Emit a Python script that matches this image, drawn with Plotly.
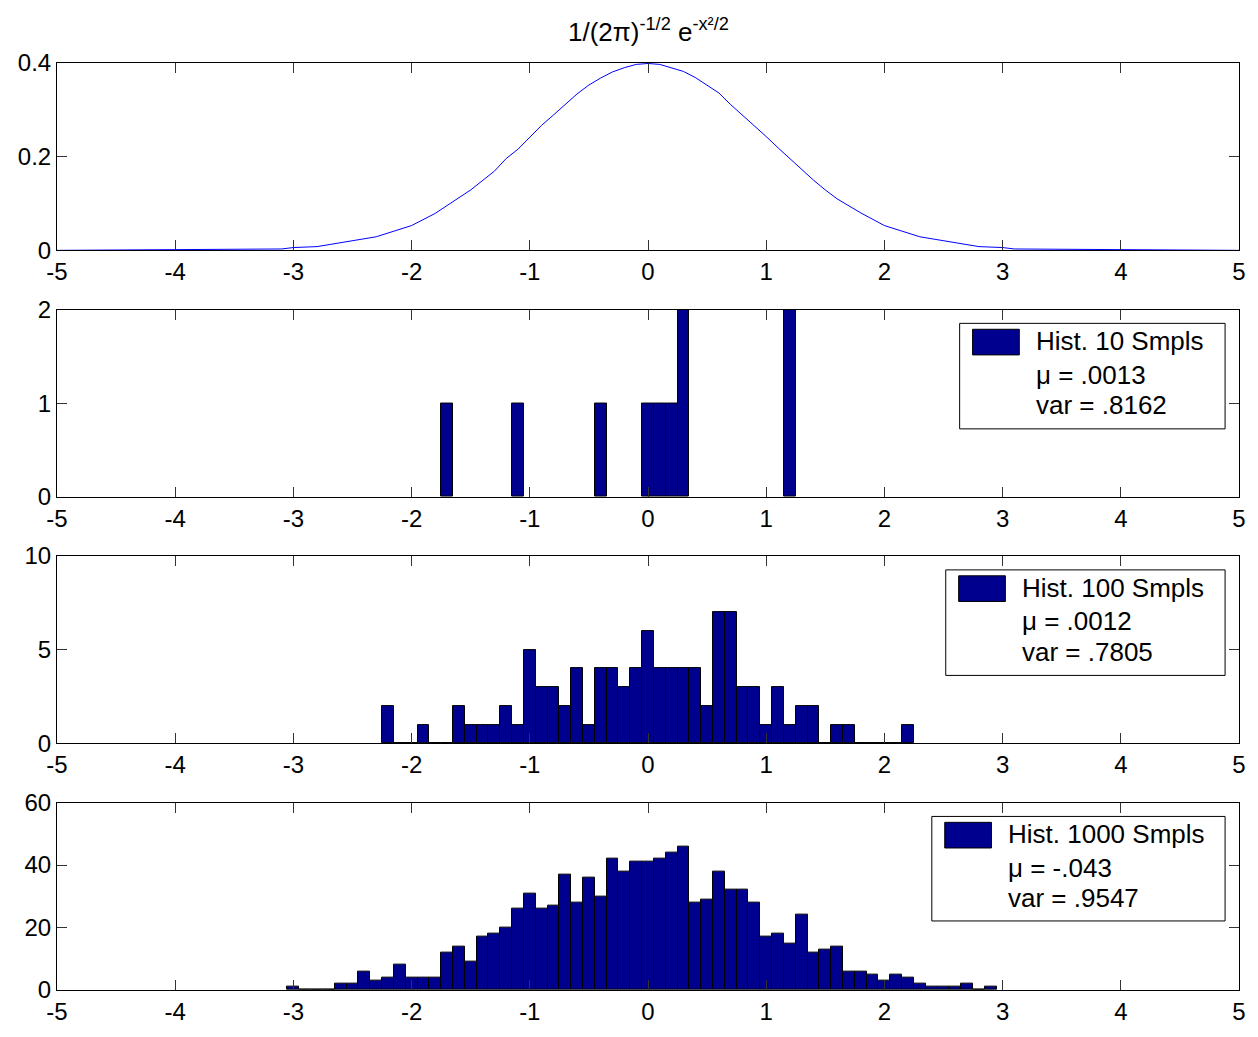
import plotly.graph_objects as go

# ---------------- data ----------------
curve_x = [-5, -3.1, -3.0, -2.8, -2.3, -2.0, -1.8, -1.6, -1.5, -1.3,
           -1.2, -1.1, -1.0, -0.9, -0.8, -0.7, -0.6, -0.5, -0.4, -0.3,
           -0.2, -0.1, 0.0, 0.1, 0.2, 0.3, 0.4, 0.5, 0.6, 0.7,
           0.8, 0.9, 1.0, 1.1, 1.2, 1.3, 1.4, 1.5, 1.6, 1.8,
           2.0, 2.3, 2.8, 3.0, 3.1, 5]
curve_y = [0.0, 0.003, 0.006, 0.008, 0.029, 0.053, 0.079, 0.112, 0.129, 0.169,
           0.196, 0.216, 0.241, 0.267, 0.289, 0.312, 0.334, 0.353, 0.368, 0.381,
           0.390, 0.397, 0.399, 0.397, 0.390, 0.382, 0.369, 0.353, 0.336, 0.311,
           0.289, 0.267, 0.243, 0.219, 0.196, 0.171, 0.150, 0.129, 0.110, 0.080,
           0.053, 0.029, 0.008, 0.006, 0.003, 0.0]

h10_x = [-1.7, -1.1, -0.4, 0.0, 0.1, 0.2, 0.3, 1.2]
h10_y = [1, 1, 1, 1, 1, 1, 2, 2]

h100_x = [-2.2, -2.1, -2.0, -1.9, -1.8, -1.7, -1.6, -1.5, -1.4, -1.3,
          -1.2, -1.1, -1.0, -0.9, -0.8, -0.7, -0.6, -0.5, -0.4, -0.3,
          -0.2, -0.1, 0.0, 0.1, 0.2, 0.3, 0.4, 0.5, 0.6, 0.7,
          0.8, 0.9, 1.0, 1.1, 1.2, 1.3, 1.4, 1.5, 1.6, 1.7,
          1.8, 1.9, 2.0, 2.1, 2.2]
h100_y = [2, 0, 0, 1, 0, 0, 2, 1, 1, 1,
          2, 1, 5, 3, 3, 2, 4, 1, 4, 4,
          3, 4, 6, 4, 4, 4, 4, 2, 7, 7,
          3, 3, 1, 3, 1, 2, 2, 0, 1, 1,
          0, 0, 0, 0, 1]

h1000_x = [-3.0, -2.9, -2.8, -2.7, -2.6, -2.5, -2.4, -2.3, -2.2, -2.1,
           -2.0, -1.9, -1.8, -1.7, -1.6, -1.5, -1.4, -1.3, -1.2, -1.1,
           -1.0, -0.9, -0.8, -0.7, -0.6, -0.5, -0.4, -0.3, -0.2, -0.1,
           0.0, 0.1, 0.2, 0.3, 0.4, 0.5, 0.6, 0.7, 0.8, 0.9,
           1.0, 1.1, 1.2, 1.3, 1.4, 1.5, 1.6, 1.7, 1.8, 1.9,
           2.0, 2.1, 2.2, 2.3, 2.4, 2.5, 2.6, 2.7, 2.8, 2.9]
h1000_y = [1, 0, 0, 0, 2, 2, 6, 3, 4, 8,
           4, 4, 4, 12, 14, 9, 17, 18, 20, 26,
           31, 26, 27, 37, 28, 36, 30, 42, 38, 41,
           41, 42, 44, 46, 28, 29, 38, 32, 32, 28,
           17, 18, 15, 24, 12, 13, 14, 6, 6, 5,
           3, 5, 4, 2, 1, 1, 1, 2, 0, 1]

x_tickvals = [-5, -4, -3, -2, -1, 0, 1, 2, 3, 4, 5]
x_ticktext = ["-5", "-4", "-3", "-2", "-1", "0", "1", "2", "3", "4", "5"]
y1_ticks = [0, 0.2, 0.4]
y1_text = ["0", "0.2", "0.4"]
y2_ticks = [0, 1, 2]
y3_ticks = [0, 5, 10]
y4_ticks = [0, 20, 40, 60]
y_ranges = [[0, 0.4], [0, 2], [0, 10], [0, 60]]

legend_names = ["Hist. 10 Smpls", "Hist. 100 Smpls", "Hist. 1000 Smpls"]
legend_mu = ["\u03bc = .0013", "\u03bc = .0012", "\u03bc = -.043"]
legend_var = ["var = .8162", "var = .7805", "var = .9547"]
title_text = "1/(2\u03c0)<sup>-1/2</sup> e<sup>-x\u00b2/2</sup>"

# ---------------- style ----------------
W, H = 1258, 1037
ML, MR, MT, MB = 57, 12, 63, 34
PW, PH = W - ML - MR, H - MT - MB
FONT = "Liberation Sans, Arial, sans-serif"
FS = 24
FS_LEG = 26
BAR_COLOR = "#00008F"
LINE_BLUE = "#0000FF"


def px_x(p):
    return (p - ML) / PW


def px_y(p):
    return (H - MB - p) / PH


# panel pixel extents (top, bottom)
panels = [(63, 253), (313, 503), (563, 753), (813, 1003)]
domains = [[px_y(b), px_y(t)] for (t, b) in panels]

fig = go.Figure()

fig.add_trace(go.Scatter(x=curve_x, y=curve_y, mode="lines",
                         line=dict(color=LINE_BLUE, width=1),
                         xaxis="x", yaxis="y", showlegend=False))

for i, (hx, hy) in enumerate([(h10_x, h10_y), (h100_x, h100_y), (h1000_x, h1000_y)]):
    n = i + 2
    fig.add_trace(go.Bar(x=hx, y=hy, width=0.1,
                         marker=dict(color=BAR_COLOR, line=dict(color="black", width=1)),
                         xaxis=f"x{n}", yaxis=f"y{n}", showlegend=False))

layout = dict(
    width=W, height=H, autosize=False,
    margin=dict(l=ML, r=MR, t=MT, b=MB),
    paper_bgcolor="white", plot_bgcolor="white",
    font=dict(family=FONT, size=FS, color="black"),
    bargap=0, barmode="overlay",
    showlegend=False,
)

y_tick_sets = [(y1_ticks, y1_text), (y2_ticks, [str(v) for v in y2_ticks]),
               (y3_ticks, [str(v) for v in y3_ticks]), (y4_ticks, [str(v) for v in y4_ticks])]

for i in range(4):
    s = "" if i == 0 else str(i + 1)
    layout[f"xaxis{s}"] = dict(
        domain=[0, 1], range=[-5, 5], anchor=f"y{s}",
        tickvals=x_tickvals, ticktext=x_ticktext,
        ticks="inside", ticklen=10, tickcolor="#333", tickwidth=1,
        showline=True, linecolor="black", linewidth=1, mirror="ticks",
        showgrid=False, zeroline=False,
        tickfont=dict(family=FONT, size=FS, color="black"),
    )
    tv, tt = y_tick_sets[i]
    layout[f"yaxis{s}"] = dict(
        domain=domains[i], range=y_ranges[i], anchor=f"x{s}",
        tickvals=tv, ticktext=tt,
        ticks="inside", ticklen=10, tickcolor="#333", tickwidth=1,
        showline=True, linecolor="black", linewidth=1, mirror="ticks",
        showgrid=False, zeroline=False,
        tickfont=dict(family=FONT, size=FS, color="black"),
    )

fig.update_layout(**layout)

# legends (MATLAB-style boxes)
legend_boxes = [
    dict(box=(965, 327, 1232, 434), patch=(978, 333, 1025, 359), tx=1040, ys=(345, 379, 410)),
    dict(box=(951, 577, 1232, 684), patch=(964, 583, 1011, 609), tx=1026, ys=(595, 629, 660)),
    dict(box=(937, 827, 1232, 933), patch=(950, 833, 997, 859), tx=1012, ys=(845, 879, 910)),
]
shapes = []
annotations = []
for lb, name, mu, var in zip(legend_boxes, legend_names, legend_mu, legend_var):
    l, t, r, b = lb["box"]
    shapes.append(dict(type="rect", xref="paper", yref="paper",
                       x0=px_x(l), x1=px_x(r), y0=px_y(b), y1=px_y(t),
                       line=dict(color="black", width=1), fillcolor="white", layer="above"))
    l, t, r, b = lb["patch"]
    shapes.append(dict(type="rect", xref="paper", yref="paper",
                       x0=px_x(l), x1=px_x(r), y0=px_y(b), y1=px_y(t),
                       line=dict(color="black", width=1), fillcolor=BAR_COLOR, layer="above"))
    for txt, yy in zip((name, mu, var), lb["ys"]):
        annotations.append(dict(text=txt, xref="paper", yref="paper",
                                x=px_x(lb["tx"]), y=px_y(yy), xanchor="left", yanchor="middle",
                                showarrow=False, font=dict(family=FONT, size=FS_LEG, color="black")))

annotations.append(dict(text=title_text, xref="paper", yref="paper",
                        x=0.5, y=px_y(30), xanchor="center", yanchor="middle",
                        showarrow=False, font=dict(family=FONT, size=26, color="black")))

fig.update_layout(shapes=shapes, annotations=annotations)

fig.write_html(
    "out.html",
    config={"responsive": False, "displayModeBar": False},
    post_script=("document.body.style.margin='0px';document.body.style.padding='0px';"
                 "document.body.style.overflow='hidden';"
                 "document.documentElement.style.overflow='hidden';"),
)
